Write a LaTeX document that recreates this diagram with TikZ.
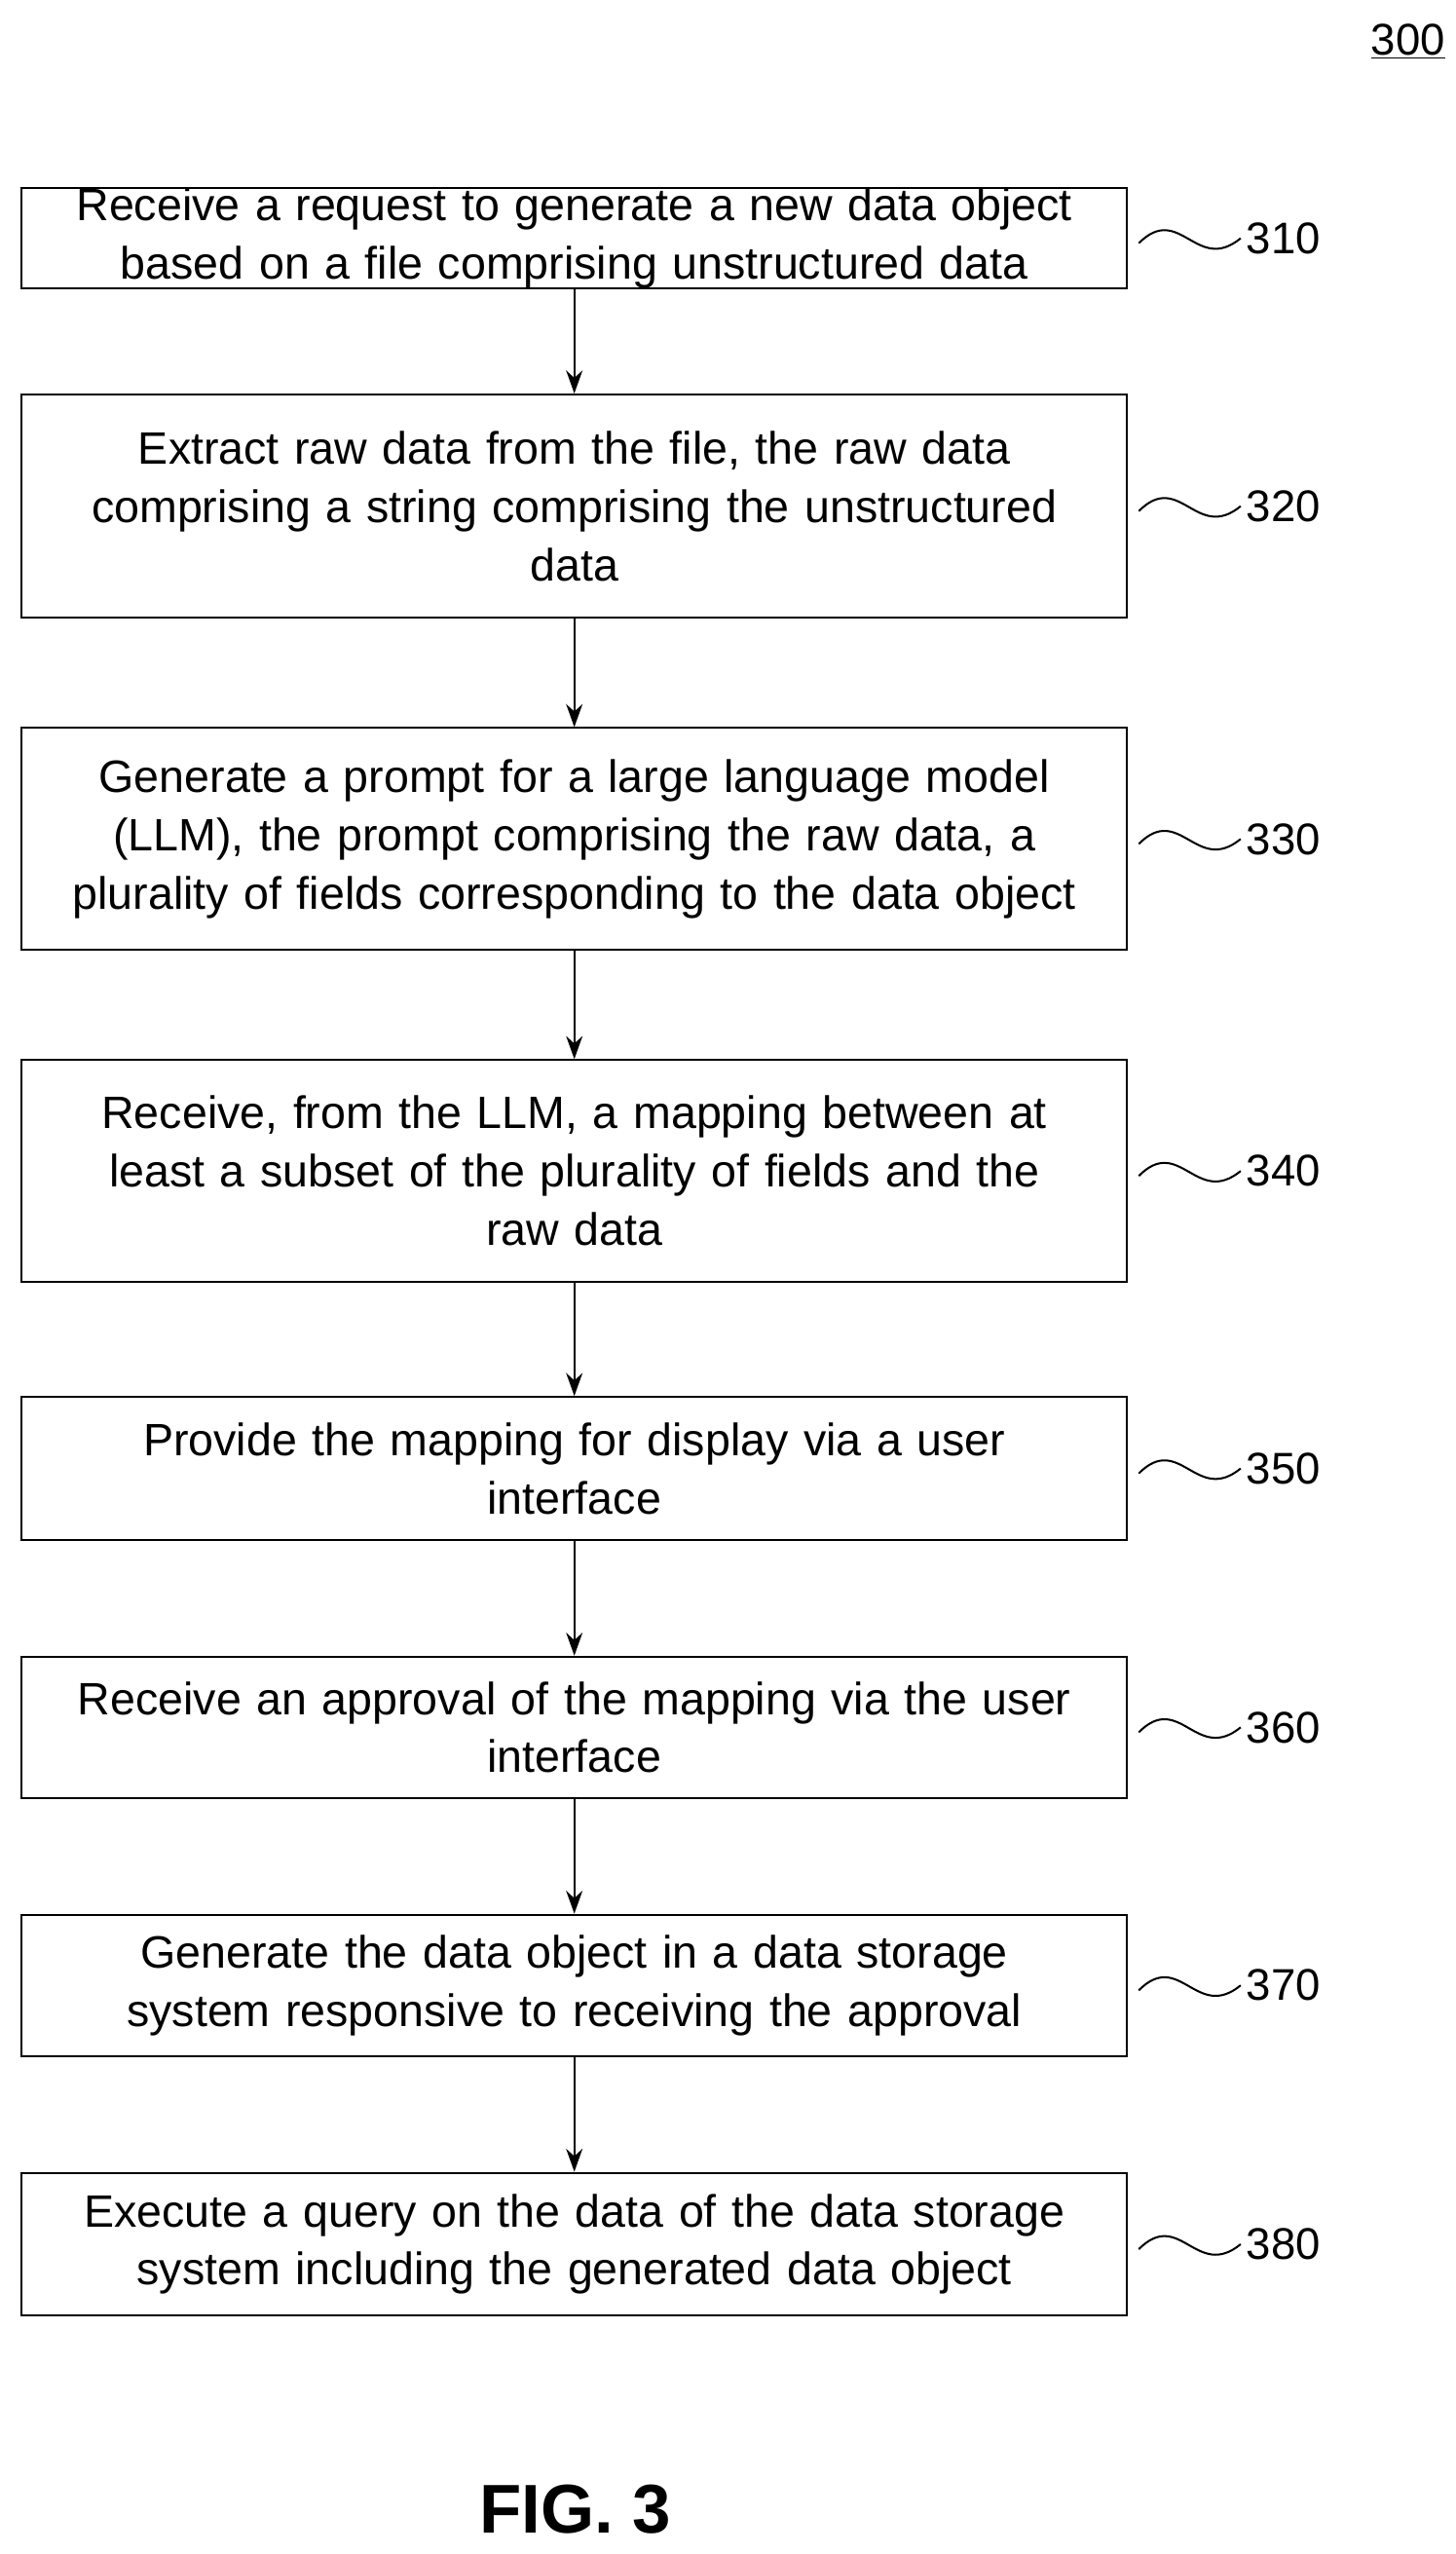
\documentclass[tikz,border=0pt]{standalone}
\usepackage{fontspec}
\setmainfont{Liberation Sans}
\usetikzlibrary{arrows.meta}
\begin{document}
\begin{tikzpicture}[x=1pt,y=-1pt,
 box/.style={draw,line width=1.2pt,align=center,font=\fontsize{27.6}{35.5}\selectfont,inner sep=0pt},
 lab/.style={font=\fontsize{27}{32}\selectfont,anchor=west},
 arr/.style={-{Stealth[length=14pt,width=10pt]},line width=1.2pt}]
\useasboundingbox (0,0) rectangle (886,1554);
\def\mk#1#2#3#4{%
 \node[box,minimum width=673pt,minimum height=#3pt,text width=665pt] (b#1) at (349.5,#2) {#4};
 \draw[line width=1.2pt] (693,#2+3) .. controls (718,#2-22) and (728,#2+22) .. (755,#2) coordinate (w#1);
 \node[lab] (l#1) at (w#1) {#1};}
\mk{310}{145}{60}{Receive a request to generate a new data object\\based on a file comprising unstructured data}
\mk{320}{308}{136}{Extract raw data from the file, the raw data\\comprising a string comprising the unstructured\\data}
\mk{330}{510.5}{135}{Generate a prompt for a large language model\\(LLM), the prompt comprising the raw data, a\\plurality of fields corresponding to the data object}
\mk{340}{712.5}{135}{Receive, from the LLM, a mapping between at\\least a subset of the plurality of fields and the\\raw data}
\mk{350}{893.5}{87}{Provide the mapping for display via a user\\interface}
\mk{360}{1051}{86}{Receive an approval of the mapping via the user\\interface}
\mk{370}{1208}{86}{Generate the data object in a data storage\\system responsive to receiving the approval}
\mk{380}{1365.5}{87}{Execute a query on the data of the data storage\\system including the generated data object}
\draw[arr] (b310) -- (b320);
\draw[arr] (b320) -- (b330);
\draw[arr] (b330) -- (b340);
\draw[arr] (b340) -- (b350);
\draw[arr] (b350) -- (b360);
\draw[arr] (b360) -- (b370);
\draw[arr] (b370) -- (b380);
\node[font=\fontsize{27}{32}\selectfont] (n300) at (857,25) {\underline{300}};
\node[font=\fontsize{42}{46}\selectfont\bfseries] (fig) at (350,1527) {FIG. 3};
\end{tikzpicture}
\end{document}
